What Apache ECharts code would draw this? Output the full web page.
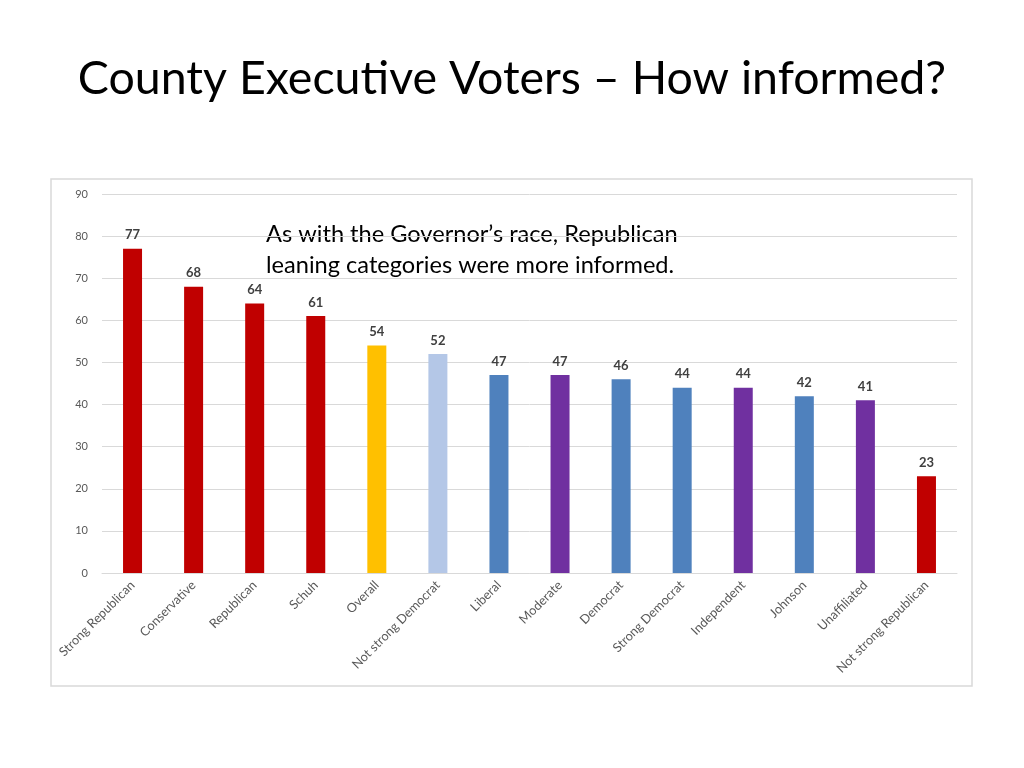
<!DOCTYPE html>
<html><head><meta charset="utf-8">
<script src="https://cdn.jsdelivr.net/npm/echarts@6/dist/echarts.min.js"></script>
<style>html,body{margin:0;padding:0;background:#fff}#c{width:1024px;height:768px}</style>
</head><body><div id="c"></div>
<script>
const categories = ["Strong Republican","Conservative","Republican","Schuh","Overall","Not strong Democrat","Liberal","Moderate","Democrat","Strong Democrat","Independent","Johnson","Unaffiliated","Not strong Republican"];
const values = [77,68,64,61,54,52,47,47,46,44,44,42,41,23];
const barColors = ["#C00000","#C00000","#C00000","#C00000","#FFC000","#B4C7E7","#4F81BD","#7030A0","#4F81BD","#4F81BD","#7030A0","#4F81BD","#7030A0","#C00000"];
const yTicks = [0,10,20,30,40,50,60,70,80,90];

const chart = echarts.init(document.getElementById('c'));
const font = "Lato, 'Open Sans', sans-serif";
chart.setOption({
  animation:false,
  title:{text:"County Executive Voters \u2013 How informed?", left:'center', top:50,
    textStyle:{fontFamily:font, fontSize:46.5, fontWeight:'normal', color:'#000'}},
  graphic:[
    {type:'rect', shape:{x:51,y:179,width:921,height:507}, style:{fill:'none',stroke:'#d9d9d9',lineWidth:1.5}, z:-1},
    {type:'text', left:266, top:219, style:{text:"As with the Governor\u2019s race, Republican\nleaning categories were more informed.", font:"23.6px "+font, fill:'#000', lineHeight:31}}
  ],
  grid:{left:102, right:67, top:194, bottom:195},
  xAxis:{type:'category', data:categories,
    axisLine:{lineStyle:{color:'#d9d9d9'}}, axisTick:{show:false},
    axisLabel:{rotate:45, interval:0, fontFamily:font, fontSize:12.7, color:'#595959', margin:10}},
  yAxis:{type:'value', min:0, max:90, interval:10,
    axisLine:{show:false}, axisTick:{show:false},
    splitLine:{lineStyle:{color:'#d9d9d9'}},
    axisLabel:{fontFamily:font, fontSize:11, color:'#595959', margin:14,
      formatter:v=>yTicks.includes(v)?String(v):''}},
  series:[{type:'bar', barWidth:19,
    data:values.map((v,i)=>({value:v,itemStyle:{color:barColors[i]}})),
    label:{show:true, position:'top', distance:7, fontFamily:font, fontSize:13, fontWeight:'bold', color:'#404040'}}]
});
</script></body></html>
